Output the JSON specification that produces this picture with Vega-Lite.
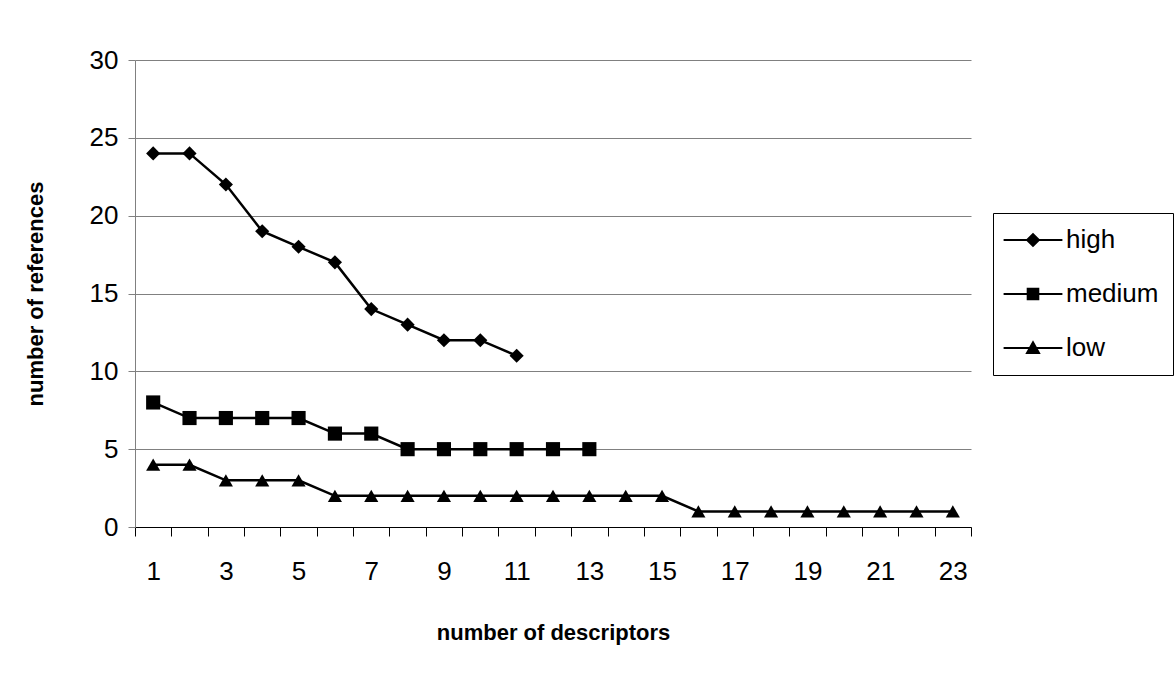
{
  "$schema": "https://vega.github.io/schema/vega-lite/v6.json",
  "width": 836,
  "height": 467,
  "autosize": {"type": "none"},
  "padding": {"left": 135, "top": 60, "right": 205, "bottom": 160},
  "background": "white",
  "config": {
    "font": "Liberation Sans",
    "view": {"stroke": null},
    "axis": {"labelFont": "Liberation Sans", "titleFont": "Liberation Sans", "labelColor": "black", "titleColor": "black"}
  },
  "data": {
    "values": [
      {"n": 1, "refs": 24, "level": "high"},
      {"n": 2, "refs": 24, "level": "high"},
      {"n": 3, "refs": 22, "level": "high"},
      {"n": 4, "refs": 19, "level": "high"},
      {"n": 5, "refs": 18, "level": "high"},
      {"n": 6, "refs": 17, "level": "high"},
      {"n": 7, "refs": 14, "level": "high"},
      {"n": 8, "refs": 13, "level": "high"},
      {"n": 9, "refs": 12, "level": "high"},
      {"n": 10, "refs": 12, "level": "high"},
      {"n": 11, "refs": 11, "level": "high"},
      {"n": 1, "refs": 8, "level": "medium"},
      {"n": 2, "refs": 7, "level": "medium"},
      {"n": 3, "refs": 7, "level": "medium"},
      {"n": 4, "refs": 7, "level": "medium"},
      {"n": 5, "refs": 7, "level": "medium"},
      {"n": 6, "refs": 6, "level": "medium"},
      {"n": 7, "refs": 6, "level": "medium"},
      {"n": 8, "refs": 5, "level": "medium"},
      {"n": 9, "refs": 5, "level": "medium"},
      {"n": 10, "refs": 5, "level": "medium"},
      {"n": 11, "refs": 5, "level": "medium"},
      {"n": 12, "refs": 5, "level": "medium"},
      {"n": 13, "refs": 5, "level": "medium"},
      {"n": 1, "refs": 4, "level": "low"},
      {"n": 2, "refs": 4, "level": "low"},
      {"n": 3, "refs": 3, "level": "low"},
      {"n": 4, "refs": 3, "level": "low"},
      {"n": 5, "refs": 3, "level": "low"},
      {"n": 6, "refs": 2, "level": "low"},
      {"n": 7, "refs": 2, "level": "low"},
      {"n": 8, "refs": 2, "level": "low"},
      {"n": 9, "refs": 2, "level": "low"},
      {"n": 10, "refs": 2, "level": "low"},
      {"n": 11, "refs": 2, "level": "low"},
      {"n": 12, "refs": 2, "level": "low"},
      {"n": 13, "refs": 2, "level": "low"},
      {"n": 14, "refs": 2, "level": "low"},
      {"n": 15, "refs": 2, "level": "low"},
      {"n": 16, "refs": 1, "level": "low"},
      {"n": 17, "refs": 1, "level": "low"},
      {"n": 18, "refs": 1, "level": "low"},
      {"n": 19, "refs": 1, "level": "low"},
      {"n": 20, "refs": 1, "level": "low"},
      {"n": 21, "refs": 1, "level": "low"},
      {"n": 22, "refs": 1, "level": "low"},
      {"n": 23, "refs": 1, "level": "low"}
    ]
  },
  "encoding": {
    "x": {
      "field": "n",
      "type": "ordinal",
      "sort": "ascending",
      "scale": {"domain": [1,2,3,4,5,6,7,8,9,10,11,12,13,14,15,16,17,18,19,20,21,22,23], "paddingInner": 0, "paddingOuter": 0},
      "axis": {
        "title": "number of descriptors",
        "titleFontSize": 22,
        "titleFontWeight": "bold",
        "titlePadding": 38,
        "labelAngle": 0,
        "labelFontSize": 26,
        "labelPadding": 22,
        "labelExpr": "datum.value % 2 == 1 ? datum.label : ''",
        "tickBand": "extent",
        "tickSize": 9,
        "tickColor": "black",
        "domainColor": "black",
        "grid": false
      }
    },
    "y": {
      "field": "refs",
      "type": "quantitative",
      "scale": {"domain": [0, 30], "nice": false},
      "axis": {
        "title": "number of references",
        "titleFontSize": 22,
        "titleFontWeight": "bold",
        "titlePadding": 42,
        "values": [0, 5, 10, 15, 20, 25, 30],
        "labelFontSize": 26,
        "labelPadding": 10,
        "tickSize": 7,
        "tickColor": "#808080",
        "domainColor": "#808080",
        "grid": true,
        "gridColor": "#808080",
        "gridOpacity": 1
      }
    }
  },
  "resolve": {"scale": {"shape": "independent"}, "legend": {"shape": "independent"}},
  "layer": [
    {
      "mark": {"type": "line", "color": "black", "strokeWidth": 2.5},
      "encoding": {"detail": {"field": "level"}}
    },
    {
      "mark": {"type": "point", "filled": true, "color": "black", "opacity": 1, "size": 200},
      "encoding": {
        "shape": {
          "field": "level",
          "type": "nominal",
          "scale": {"domain": ["high", "medium", "low"], "range": ["diamond", "square", "triangle-up"]},
          "legend": null
        }
      }
    },
    {
      "transform": [{"filter": "false"}],
      "mark": {"type": "point", "filled": true, "color": "black", "opacity": 1},
      "encoding": {
        "shape": {
          "field": "level",
          "type": "nominal",
          "scale": {
            "domain": ["high", "medium", "low"],
            "range": [
              "M-4.2,-0.15H4.2V0.15H-4.2ZM0,-1.05L1.05,0L0,1.05L-1.05,0Z",
              "M-4.2,-0.15H4.2V0.15H-4.2ZM-0.9,-0.9H0.9V0.9H-0.9Z",
              "M-4.2,-0.15H4.2V0.15H-4.2ZM0,-1.1L1.1,0.85H-1.1Z"
            ]
          },
          "legend": {
            "title": null,
            "orient": "none",
            "legendX": 858,
            "legendY": 153,
            "padding": 14,
            "strokeColor": "black",
            "fillColor": "white",
            "labelFontSize": 26,
            "labelColor": "black",
            "labelFont": "Liberation Sans",
            "symbolSize": 196,
            "symbolFillColor": "black",
            "symbolOpacity": 1,
            "symbolOffset": 13,
            "labelOffset": 20,
            "rowPadding": 28
          }
        }
      }
    }
  ]
}
